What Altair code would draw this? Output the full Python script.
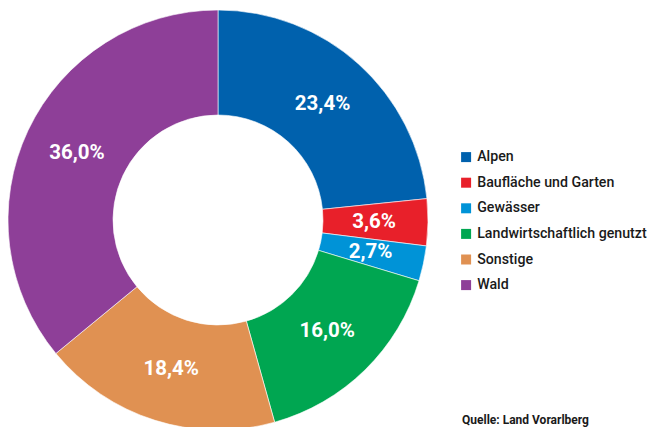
import altair as alt
import pandas as pd

categories = ["Alpen", "Baufläche und Garten", "Gewässer", "Landwirtschaftlich genutzt", "Sonstige", "Wald"]
values = [23.4, 3.6, 2.7, 16.0, 18.4, 36.0]
labels = ["23,4%", "3,6%", "2,7%", "16,0%", "18,4%", "36,0%"]
colors = ["#0061AD", "#E8202A", "#0093D7", "#00A651", "#E09152", "#8E3F98"]

df = pd.DataFrame({"cat": categories, "val": values, "lab": labels, "order": list(range(len(categories)))})

CX, CY = 210, 212
base = alt.Chart(df).encode(
    theta=alt.Theta("val:Q", stack=True),
    order=alt.Order("order:Q"),
)

arcs = base.mark_arc(outerRadius=210, innerRadius=105, stroke="white", strokeWidth=0.6).encode(
    x=alt.value(CX), y=alt.value(CY),
    color=alt.Color("cat:N", sort=categories,
                    scale=alt.Scale(domain=categories, range=colors),
                    legend=alt.Legend(title=None, orient="none", legendX=451, legendY=142,
                                      symbolType="square", symbolSize=100, symbolStrokeWidth=0,
                                      labelFontSize=14.2, labelFont="Roboto", labelFontWeight=500,
                                      labelColor="#1a1a1a", rowPadding=10.6, labelOffset=4,
                                      labelLimit=400)),
)

text = base.mark_text(radius=156, font="Roboto", fontSize=20.5, fontWeight="bold", color="white").encode(
    x=alt.value(CX), y=alt.value(CY),
    text="lab:N",
)

src = alt.Chart(pd.DataFrame({"t": ["Quelle: Land Vorarlberg"]})).mark_text(
    align="left", baseline="alphabetic", font="Roboto", fontSize=12, fontWeight="bold", color="#1a1a1a"
).encode(x=alt.value(454), y=alt.value(416), text="t:N")

chart = alt.layer(arcs, text, src).properties(
    width=642, height=419, padding=0, autosize=alt.AutoSizeParams(type="none")
).configure_view(stroke=None)

chart.save("out.html", embed_options={"renderer": "svg", "actions": False})
